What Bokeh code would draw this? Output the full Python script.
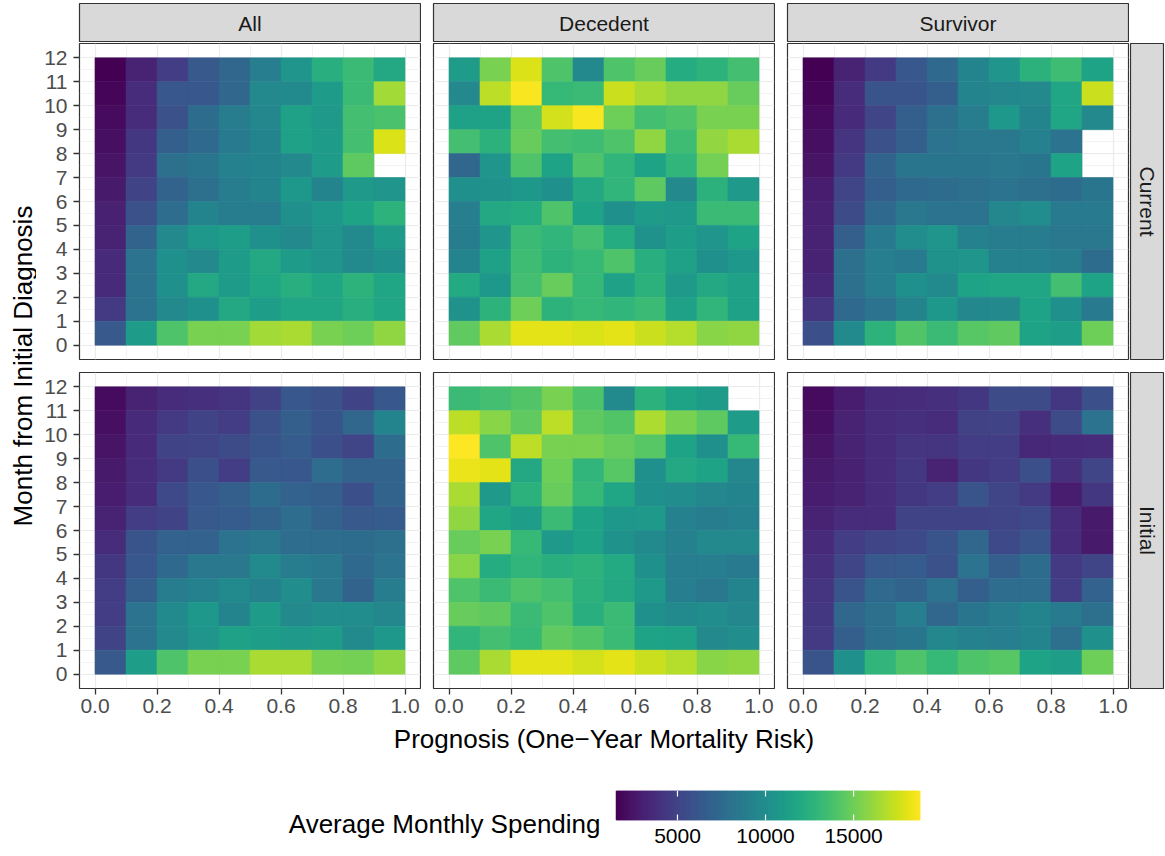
import math
from bokeh.plotting import figure
from bokeh.models import (Range1d, FixedTicker, LinearAxis, Grid, PrintfTickFormatter, Label,
                          ColumnDataSource, Spacer)
from bokeh.layouts import row, column
from bokeh.palettes import Viridis256
from bokeh.transform import linear_cmap
from bokeh.embed import file_html
from bokeh.resources import INLINE

nan = float("nan")

# ---------------- data ----------------
facet_cols = ["All", "Decedent", "Survivor"]
facet_rows = ["Current", "Initial"]
prognosis_bins = [0.05, 0.15, 0.25, 0.35, 0.45, 0.55, 0.65, 0.75, 0.85, 0.95]
month_bins = [0.5, 1.5, 2.5, 3.5, 4.5, 5.5, 6.5, 7.5, 8.5, 9.5, 10.5, 11.5]
x_ticks = [0.0, 0.2, 0.4, 0.6, 0.8, 1.0]
x_minor = [0.1, 0.3, 0.5, 0.7, 0.9]
y_ticks = [0, 1, 2, 3, 4, 5, 6, 7, 8, 9, 10, 11, 12]
y_minor = [0.5, 1.5, 2.5, 3.5, 4.5, 5.5, 6.5, 7.5, 8.5, 9.5, 10.5, 11.5]
legend_ticks = [5000, 10000, 15000]
spend_low, spend_high = 1480, 18800

# average monthly spending ($ thousands); rows from month 11 (top) down to month 0
all_current = [
    [1.5, 3.2, 4.6, 6.3, 7.2, 8.9, 10.5, 12.4, 13.3, 11.9],
    [1.7, 3.7, 6.2, 6.2, 7.2, 9.6, 9.8, 11.0, 13.3, 16.4],
    [2.0, 3.7, 5.8, 7.6, 8.8, 9.5, 11.4, 10.8, 13.6, 13.8],
    [2.2, 4.3, 6.7, 7.4, 8.6, 9.3, 11.4, 11.0, 13.6, 17.9],
    [2.4, 4.4, 7.9, 8.2, 9.1, 9.3, 9.6, 11.0, 14.5, nan],
    [2.7, 5.0, 7.0, 7.9, 8.8, 9.3, 10.7, 9.3, 10.8, 10.5],
    [3.1, 5.8, 7.7, 9.3, 8.8, 8.8, 10.2, 10.7, 11.5, 12.7],
    [3.2, 7.0, 9.6, 10.7, 11.2, 10.2, 9.6, 10.5, 9.8, 11.0],
    [3.6, 8.1, 10.2, 9.6, 11.0, 11.9, 11.0, 10.5, 9.8, 10.2],
    [3.6, 8.1, 10.2, 11.9, 11.0, 11.7, 12.4, 11.7, 12.7, 11.7],
    [4.4, 8.1, 9.6, 10.2, 11.9, 11.2, 11.7, 11.7, 12.4, 11.7],
    [6.3, 11.0, 14.0, 15.3, 15.3, 16.4, 16.6, 15.3, 15.0, 15.9],
]
decedent_current = [
    [11.0, 15.3, 17.9, 14.0, 9.6, 14.0, 14.8, 12.2, 12.7, 13.6],
    [9.6, 17.1, 18.6, 13.1, 13.3, 17.4, 16.6, 15.9, 15.9, 14.8],
    [11.4, 11.5, 14.5, 17.6, 18.6, 15.0, 13.6, 14.0, 15.3, 15.3],
    [13.6, 12.6, 14.8, 13.6, 13.4, 14.0, 15.9, 13.4, 16.0, 16.6],
    [7.2, 10.5, 14.0, 11.5, 14.0, 12.9, 11.5, 12.9, 15.2, nan],
    [10.2, 10.3, 10.7, 10.2, 11.9, 12.9, 14.5, 9.6, 12.6, 10.8],
    [8.9, 11.9, 12.2, 14.0, 11.5, 10.2, 11.0, 10.8, 13.3, 13.3],
    [8.8, 10.5, 13.3, 12.9, 13.6, 12.2, 10.3, 11.2, 10.5, 11.5],
    [9.3, 11.4, 13.4, 12.7, 13.1, 14.0, 12.4, 11.4, 10.2, 10.7],
    [12.1, 10.7, 13.6, 14.8, 13.1, 11.4, 12.6, 10.8, 11.9, 11.4],
    [10.3, 12.7, 15.0, 12.7, 13.1, 12.9, 13.3, 11.4, 12.9, 11.4],
    [14.6, 16.6, 18.1, 18.1, 17.8, 18.1, 17.4, 16.9, 15.7, 15.9],
]
survivor_current = [
    [1.5, 3.2, 4.4, 6.2, 7.4, 9.3, 10.5, 12.6, 13.4, 11.5],
    [1.7, 3.7, 6.0, 6.0, 6.7, 9.3, 9.5, 9.6, 11.7, 17.4],
    [2.0, 3.6, 5.1, 6.7, 7.9, 8.8, 10.7, 9.3, 11.7, 9.6],
    [2.2, 4.1, 5.8, 6.7, 8.1, 8.4, 8.4, 9.1, 8.1, nan],
    [2.4, 4.4, 7.0, 8.2, 8.2, 8.2, 8.4, 8.2, 11.5, nan],
    [2.9, 5.1, 6.7, 7.4, 7.6, 7.9, 8.1, 7.9, 7.6, 8.2],
    [3.1, 5.5, 7.4, 8.4, 8.1, 8.1, 9.5, 10.0, 8.6, 8.6],
    [3.2, 6.7, 8.6, 10.0, 10.5, 9.1, 8.8, 8.8, 8.4, 8.4],
    [3.2, 7.9, 8.9, 8.6, 10.3, 10.5, 9.1, 9.1, 8.8, 7.6],
    [3.4, 7.9, 8.9, 10.2, 9.8, 11.5, 11.7, 11.7, 13.6, 11.5],
    [4.1, 7.4, 8.1, 9.3, 10.7, 9.5, 9.6, 11.5, 10.2, 8.6],
    [5.7, 9.8, 12.7, 14.1, 13.3, 14.3, 14.6, 11.5, 11.2, 15.0],
]
all_initial = [
    [2.0, 3.2, 3.7, 3.9, 4.1, 4.8, 6.2, 5.8, 5.0, 6.2],
    [2.2, 3.6, 4.4, 5.0, 4.6, 5.8, 6.7, 6.0, 7.2, 9.3],
    [2.4, 3.6, 5.0, 5.1, 5.5, 6.0, 6.5, 5.7, 5.1, 7.6],
    [2.7, 3.7, 4.4, 5.7, 4.6, 6.3, 6.2, 7.7, 7.0, 7.0],
    [2.9, 3.7, 5.3, 6.2, 6.7, 7.6, 6.9, 6.7, 5.7, 7.0],
    [3.2, 4.6, 5.0, 6.3, 6.5, 7.0, 7.7, 7.0, 6.3, 6.5],
    [3.7, 6.0, 6.9, 6.9, 8.1, 8.4, 7.7, 7.7, 7.6, 7.9],
    [4.3, 6.2, 7.4, 8.4, 8.4, 9.8, 8.8, 8.4, 7.4, 8.1],
    [4.6, 6.7, 8.8, 9.1, 9.8, 9.1, 10.0, 8.4, 7.0, 8.8],
    [4.6, 8.1, 9.8, 10.7, 9.3, 11.0, 9.6, 10.0, 10.0, 9.5],
    [5.0, 8.1, 9.6, 10.5, 11.4, 11.2, 10.8, 11.0, 9.8, 10.7],
    [6.3, 11.2, 14.0, 15.3, 15.3, 16.6, 16.6, 15.3, 15.2, 15.9],
]
decedent_initial = [
    [13.3, 13.6, 14.1, 15.3, 14.0, 9.8, 12.6, 11.5, 11.0, nan],
    [17.1, 15.7, 14.6, 17.1, 14.5, 14.1, 16.7, 15.3, 14.5, 11.0],
    [18.8, 14.0, 17.1, 15.3, 15.3, 14.8, 14.3, 11.5, 10.2, 13.1],
    [18.3, 18.1, 11.9, 15.0, 12.9, 14.3, 10.2, 11.9, 11.5, 9.5],
    [16.6, 10.8, 12.6, 14.8, 13.1, 11.7, 10.2, 10.0, 9.5, 9.3],
    [15.9, 11.7, 11.2, 13.3, 11.5, 10.7, 10.8, 9.1, 8.8, 9.1],
    [14.8, 15.3, 13.1, 10.8, 11.5, 10.3, 9.8, 9.1, 9.6, 9.6],
    [15.7, 12.2, 12.9, 12.4, 12.7, 12.1, 10.2, 8.9, 8.9, 8.6],
    [14.0, 13.3, 14.0, 13.6, 12.6, 11.9, 10.8, 8.9, 8.4, 9.3],
    [14.8, 14.6, 13.3, 14.0, 12.4, 13.3, 10.2, 9.8, 10.0, 9.5],
    [12.9, 13.6, 13.1, 14.6, 14.1, 13.3, 11.5, 11.4, 9.6, 10.0],
    [14.5, 16.6, 18.1, 18.1, 17.6, 18.1, 17.4, 16.9, 15.7, 15.9],
]
survivor_initial = [
    [2.0, 2.9, 3.6, 3.7, 3.9, 4.3, 5.5, 5.5, 4.3, 5.7],
    [2.2, 3.2, 3.7, 3.9, 3.7, 4.8, 5.0, 3.9, 5.5, 8.1],
    [2.4, 3.2, 3.7, 4.1, 4.1, 4.6, 4.6, 3.4, 3.6, 3.7],
    [2.7, 3.1, 3.7, 4.3, 3.2, 4.3, 4.6, 5.7, 3.9, 5.1],
    [2.9, 3.2, 3.7, 4.3, 4.6, 6.0, 5.1, 4.4, 2.9, 4.3],
    [3.2, 3.7, 3.7, 5.0, 5.0, 5.0, 5.1, 5.3, 3.7, 2.7],
    [3.6, 4.6, 5.1, 5.3, 6.0, 7.2, 5.3, 6.0, 3.7, 2.7],
    [3.9, 5.1, 6.3, 6.5, 5.8, 8.1, 6.7, 7.6, 4.4, 5.1],
    [4.1, 6.0, 7.4, 7.0, 8.1, 6.7, 7.7, 7.7, 4.6, 6.9],
    [4.3, 7.2, 7.9, 8.9, 7.2, 8.2, 8.8, 9.3, 8.6, 7.9],
    [4.4, 6.7, 7.9, 8.2, 9.5, 9.1, 8.9, 9.3, 7.9, 10.2],
    [6.0, 10.2, 12.9, 14.0, 13.1, 14.0, 14.3, 11.5, 11.2, 15.0],
]
panel_values = {
    ("Current", "All"): all_current,
    ("Current", "Decedent"): decedent_current,
    ("Current", "Survivor"): survivor_current,
    ("Initial", "All"): all_initial,
    ("Initial", "Decedent"): decedent_initial,
    ("Initial", "Survivor"): survivor_initial,
}

# ---------------- styling / geometry ----------------
FONT = "Liberation Sans"
FW = 341
YT_W = 36
LEFT0 = 43
GAP = 11
ROW_FH = {"Current": 316, "Initial": 316}
ROW_BT = {"Current": 1, "Initial": 7}
ROW_BB = {"Current": 6, "Initial": 34}
STRIP_H_TOP, STRIP_FH = 3, 39
STRIP_FILL = "#D9D9D9"
DARK = "#333333"
GRIDC = "#EBEBEB"


def base_fig(fw, fh, xr, yr, left=0, right=0, top=0, bottom=0):
    p = figure(frame_width=fw, frame_height=fh, x_range=xr, y_range=yr,
               x_axis_type=None, y_axis_type=None, toolbar_location=None,
               output_backend="svg", min_border_left=left, min_border_right=right,
               min_border_top=top, min_border_bottom=bottom)
    p.background_fill_color = "white"
    p.border_fill_color = "white"
    p.outline_line_color = None
    return p


def make_panel(rname, cname, ci, ri):
    left = LEFT0 if ci == 0 else 1
    p = base_fig(FW, ROW_FH[rname], Range1d(-0.05, 1.05), Range1d(-0.6, 12.6),
                 left=left, right=1, top=ROW_BT[rname], bottom=ROW_BB[rname])
    p.outline_line_color = DARK
    p.outline_line_width = 1.2
    xt = FixedTicker(ticks=x_ticks, minor_ticks=x_minor)
    yt = FixedTicker(ticks=y_ticks, minor_ticks=y_minor)
    for dim, tk in ((0, xt), (1, yt)):
        p.add_layout(Grid(dimension=dim, ticker=tk, grid_line_color=GRIDC, grid_line_width=1.2,
                          minor_grid_line_color=GRIDC, minor_grid_line_width=0.6))
    vals = panel_values[(rname, cname)]
    xs, ys, vs = [], [], []
    nrows = len(vals)
    for i, rv in enumerate(vals):
        m = month_bins[nrows - 1 - i]
        for j, v in enumerate(rv):
            if not math.isnan(v):
                xs.append(prognosis_bins[j])
                ys.append(m)
                vs.append(v * 1000.0)
    src = ColumnDataSource(dict(x=xs, y=ys, v=vs))
    cm = linear_cmap("v", Viridis256, spend_low, spend_high)
    p.rect("x", "y", width=0.1, height=1.0, source=src, fill_color=cm, line_color=cm, line_width=0.6)
    if ci == 0:
        ax = LinearAxis(ticker=yt, axis_line_color=None, major_tick_line_color=DARK,
                        major_tick_line_width=1.3, major_tick_in=0, major_tick_out=6,
                        minor_tick_line_color=None, major_label_standoff=6,
                        major_label_text_font=FONT, major_label_text_font_size="21px",
                        major_label_text_color="#4D4D4D")
        p.add_layout(ax, "left")
    if ri == 1:
        ax = LinearAxis(ticker=xt, formatter=PrintfTickFormatter(format="%.1f"),
                        axis_line_color=None, major_tick_line_color=DARK,
                        major_tick_line_width=1.3, major_tick_in=0, major_tick_out=6,
                        minor_tick_line_color=None, major_label_standoff=4,
                        major_label_text_font=FONT, major_label_text_font_size="21px",
                        major_label_text_color="#4D4D4D")
        p.add_layout(ax, "below")
    return p


def top_strip(text, ci):
    left = LEFT0 if ci == 0 else 1
    p = base_fig(FW, STRIP_FH, Range1d(0, 1), Range1d(0, 1), left=left, right=1,
                 top=STRIP_H_TOP, bottom=0)
    p.background_fill_color = STRIP_FILL
    p.outline_line_color = DARK
    p.outline_line_width = 1.2
    p.add_layout(Label(x=0.5, y=0.5, text=text, text_align="center", text_baseline="middle",
                       text_font=FONT, text_font_size="21px", text_color="#1A1A1A"))
    return p


def right_strip(text, rname):
    p = base_fig(33, ROW_FH[rname], Range1d(0, 1), Range1d(0, 1), left=1, right=1,
                 top=ROW_BT[rname], bottom=ROW_BB[rname])
    p.background_fill_color = STRIP_FILL
    p.outline_line_color = DARK
    p.outline_line_width = 1.2
    p.add_layout(Label(x=0.5, y=0.5, text=text, text_align="center", text_baseline="middle",
                       angle=-math.pi / 2, text_font=FONT, text_font_size="21px",
                       text_color="#1A1A1A"))
    return p


SH = STRIP_H_TOP + STRIP_FH
strip_row = row(top_strip(facet_cols[0], 0), Spacer(width=GAP, height=SH),
                top_strip(facet_cols[1], 1), Spacer(width=GAP, height=SH),
                top_strip(facet_cols[2], 2))

panel_rows = []
for ri, rname in enumerate(facet_rows):
    figs = [make_panel(rname, cname, ci, ri) for ci, cname in enumerate(facet_cols)]
    h = ROW_BT[rname] + ROW_FH[rname] + ROW_BB[rname]
    panel_rows.append(row(figs[0], Spacer(width=GAP, height=h), figs[1], Spacer(width=GAP, height=h),
                          figs[2], right_strip(rname, rname)))

grid_col = column(strip_row, panel_rows[0], panel_rows[1])

# y axis title
YT_H = SH + sum(ROW_BT[r] + ROW_FH[r] + ROW_BB[r] for r in facet_rows)
frame_mid = (SH + ROW_BT["Current"] + (YT_H - ROW_BB["Initial"])) / 2.0
ytitle = base_fig(YT_W, YT_H, Range1d(0, YT_W), Range1d(0, YT_H))
ytitle.add_layout(Label(x=22, y=YT_H - frame_mid, text="Month from Initial Diagnosis",
                        angle=math.pi / 2, text_align="center", text_baseline="middle",
                        text_font=FONT, text_font_size="26px", text_color="black"))

TOTAL_W = YT_W + (LEFT0 + FW + 1) + GAP + (FW + 2) + GAP + (FW + 2) + 35
XT_H = 34
panels_center = YT_W + LEFT0 + (3 * FW + 2 * GAP + 4) / 2.0
xtitle = base_fig(TOTAL_W, XT_H, Range1d(0, TOTAL_W), Range1d(0, XT_H))
xtitle.add_layout(Label(x=panels_center, y=18, text="Prognosis (One\u2212Year Mortality Risk)",
                        text_align="center", text_baseline="middle", text_font=FONT,
                        text_font_size="26px", text_color="black"))

# legend (title + colour bar share the same top border so their frames align)
LEG_TOP = 34
leg_title = base_fig(615, 62, Range1d(0, 615), Range1d(0, 62), top=LEG_TOP, bottom=0)
leg_title.add_layout(Label(x=600, y=29, text="Average Monthly Spending", text_align="right",
                           text_baseline="middle", text_font=FONT, text_font_size="26px",
                           text_color="black"))

cbar = base_fig(305, 30, Range1d(spend_low, spend_high), Range1d(0, 1), left=0, right=60,
                top=LEG_TOP, bottom=32)
n = len(Viridis256)
step = (spend_high - spend_low) / n
lefts = [spend_low + i * step for i in range(n)]
rights = [min(spend_low + (i + 2) * step, spend_high) for i in range(n)]
cbar.quad(left=lefts, right=rights, bottom=0, top=1, fill_color=list(Viridis256), line_color=None)
cbar.segment(x0=legend_ticks, x1=legend_ticks, y0=0, y1=0.2, line_color="white", line_width=1.2)
cbar.segment(x0=legend_ticks, x1=legend_ticks, y0=0.8, y1=1, line_color="white", line_width=1.2)
cax = LinearAxis(ticker=FixedTicker(ticks=legend_ticks), formatter=PrintfTickFormatter(format="%d"),
                 axis_line_color=None, major_tick_line_color=None, minor_tick_line_color=None,
                 major_tick_in=0, major_tick_out=0, major_label_standoff=8,
                 major_label_text_font=FONT, major_label_text_font_size="21px",
                 major_label_text_color="black")
cbar.add_layout(cax, "below")

layout = column(row(ytitle, grid_col), xtitle, row(leg_title, cbar))

open("out.html", "w").write(file_html(layout, INLINE))
